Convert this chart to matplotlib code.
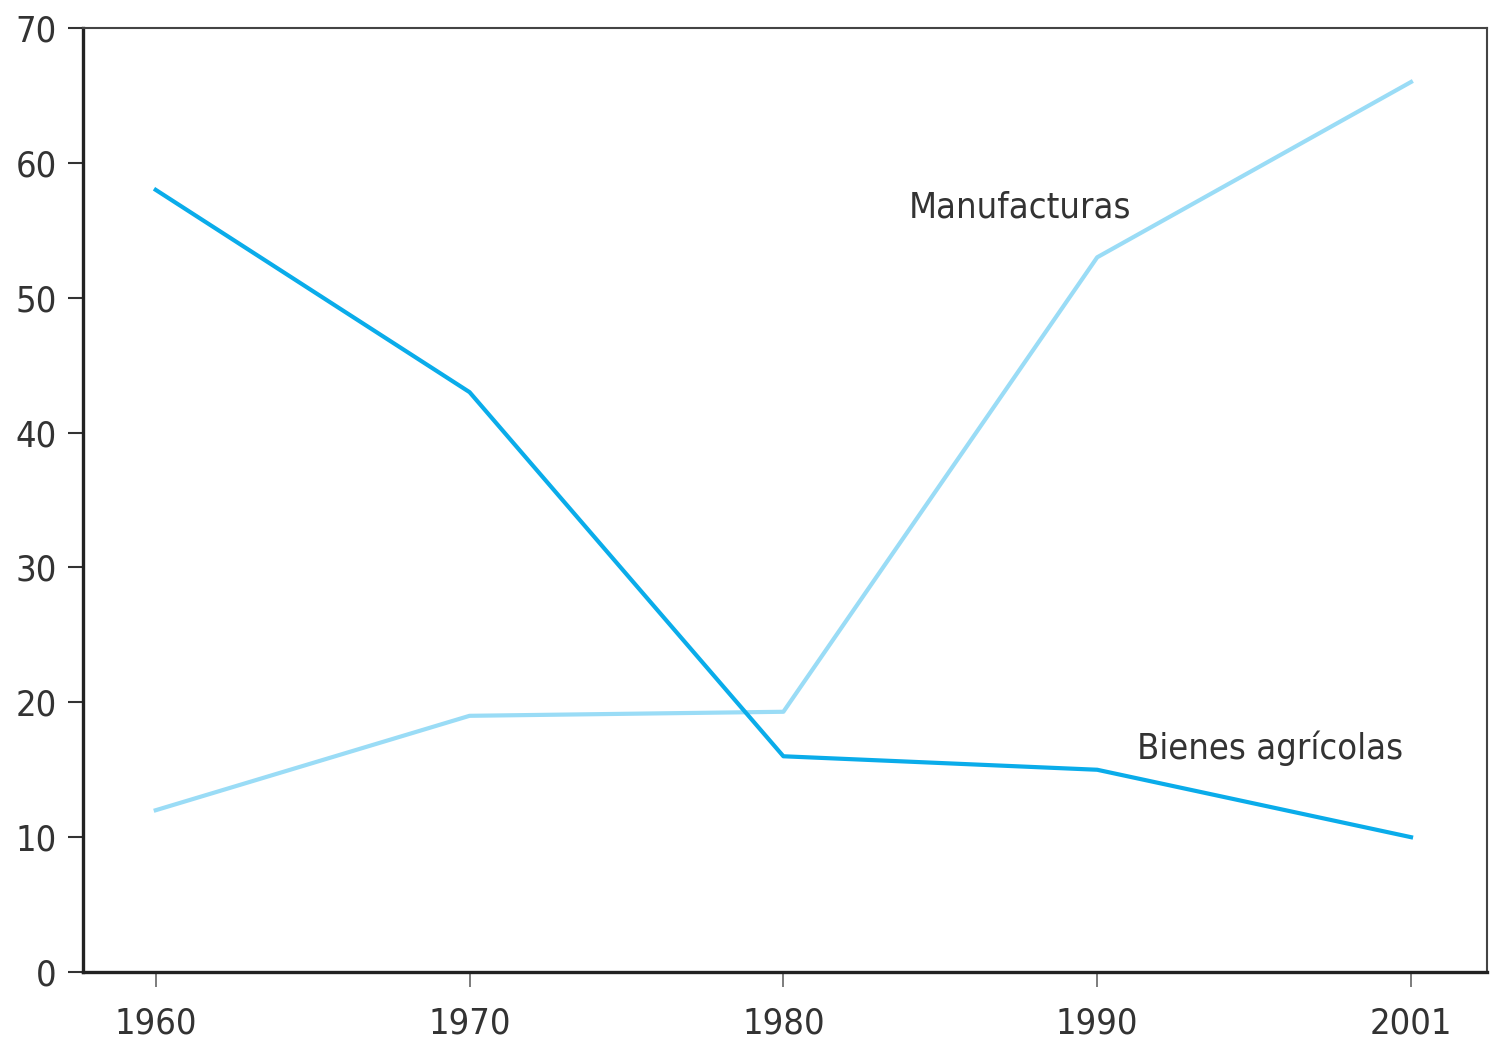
import matplotlib
matplotlib.use('Agg')
import matplotlib.pyplot as plt
from matplotlib import font_manager

# Daten
jahre = ['1960', '1970', '1980', '1990', '2001']
bienes_agricolas = [58, 43, 16, 15, 10]
manufacturas = [12, 19, 19.3, 53, 66]

fig = plt.figure(figsize=(14.97, 10.46), dpi=100)
ax = fig.add_axes([0.0554, 0.0707, 0.9379, 0.9025])

x = list(range(len(jahre)))
ax.plot(x, manufacturas, color='#9adcf6', lw=3)
ax.plot(x, bienes_agricolas, color='#0aacea', lw=3)

ax.set_xlim(-0.232, 4.242)
ax.set_ylim(0, 70)
ax.set_xticks(x)
ax.set_xticklabels(jahre)
ax.set_yticks(range(0, 71, 10))

fp = font_manager.FontProperties(family='DejaVu Sans', stretch='condensed', size=26)
for lab in ax.get_xticklabels() + ax.get_yticklabels():
    lab.set_fontproperties(fp)
    lab.set_color('#333333')

ax.tick_params(axis='y', length=11, width=1.5, color='#333333', pad=8)
ax.tick_params(axis='x', length=11, width=1.2, color='#666666', pad=14)

ax.spines['left'].set_linewidth(2.4)
ax.spines['bottom'].set_linewidth(2.4)
ax.spines['left'].set_color('#222222')
ax.spines['bottom'].set_color('#222222')
for s in ['top', 'right']:
    ax.spines[s].set_linewidth(1.5)
    ax.spines[s].set_color('#444444')

ax.text(2.40, 56.7, 'Manufacturas', va='center', ha='left', fontproperties=fp, color='#333333')
ax.text(3.127, 16.6, 'Bienes agrícolas', va='center', ha='left', fontproperties=fp, color='#333333')

fig.savefig('out.png', dpi=100)
